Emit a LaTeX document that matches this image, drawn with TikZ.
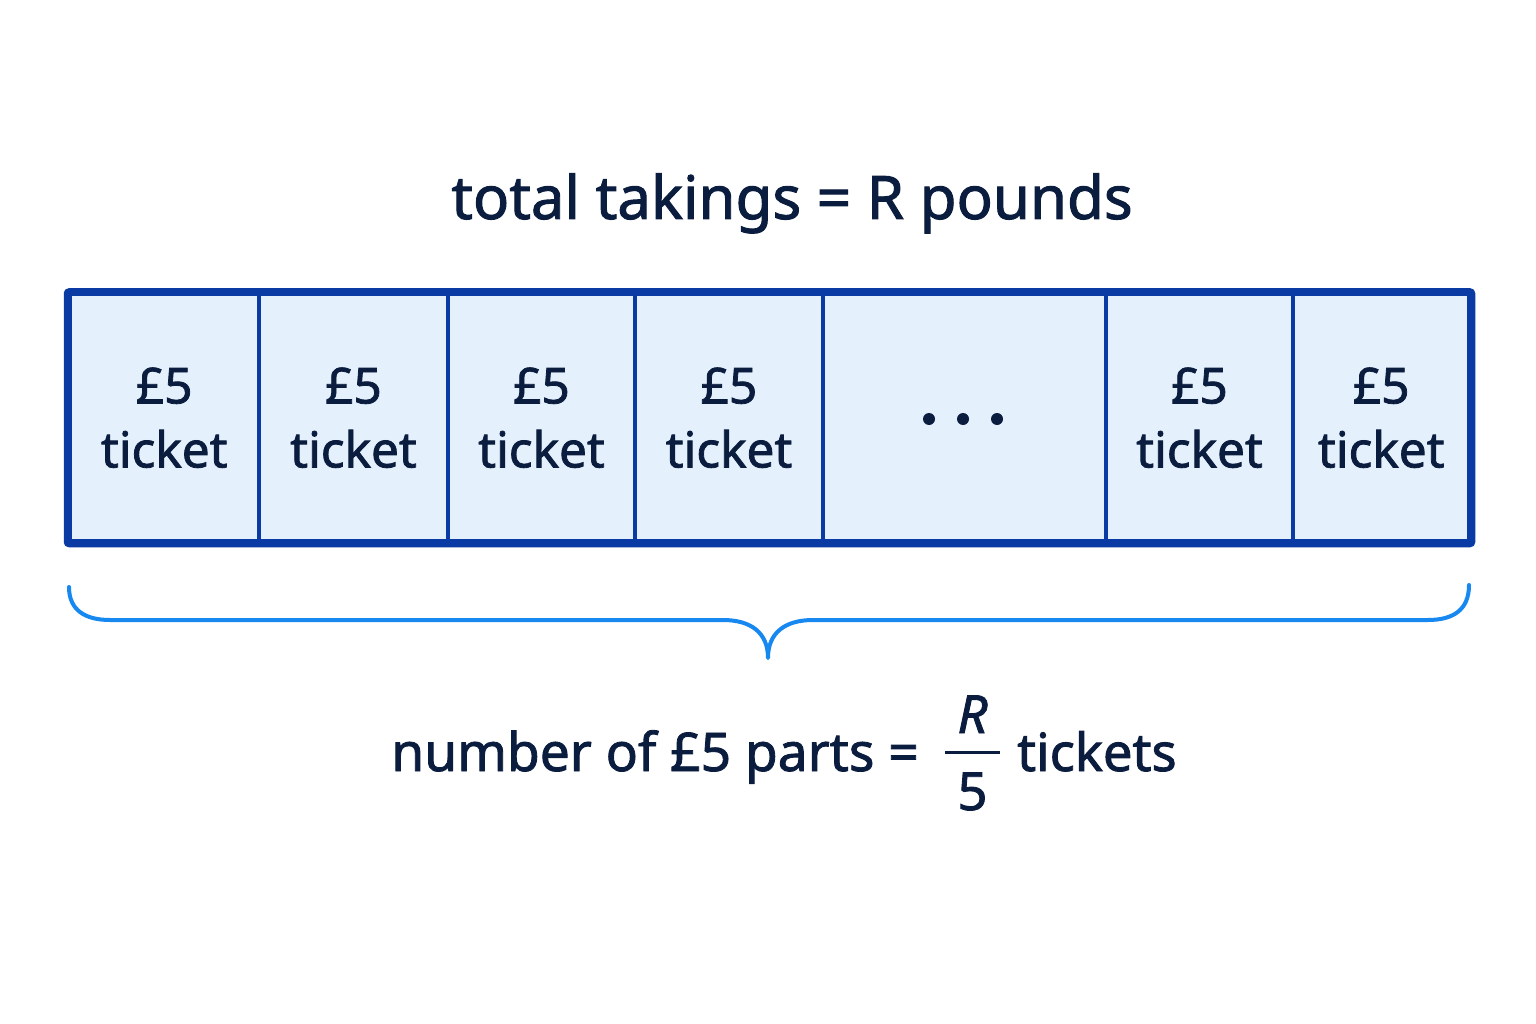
\documentclass[tikz,border=0pt]{standalone}
\usepackage{fontspec}
\setmainfont{Noto Sans}[RawFeature={embolden=1.6}]
\definecolor{inkc}{HTML}{0B1D3F}
\definecolor{boxborder}{HTML}{0A3AA3}
\definecolor{boxfill}{HTML}{E4F0FC}
\definecolor{bracec}{HTML}{1688F0}
\tikzset{
  cellbox/.style={draw=boxborder, line width=4.5pt, fill=boxfill, inner sep=0pt,
    minimum height=247.5pt, text=inkc, align=center,
    font=\fontsize{49.5}{64}\selectfont},
  dotc/.style={circle, fill=inkc, inner sep=0pt, minimum size=12pt},
  bigtext/.style={text=inkc, inner sep=0pt},
}
\begin{document}
\begin{tikzpicture}[x=1pt,y=-1pt]
\useasboundingbox[fill=white] (0,0) rectangle (1536,1024);
% cells
\node[cellbox, minimum width=189.5pt] (c1) at (164.25,417.75) {£5\\ticket};
\node[cellbox, minimum width=189pt] (c2) at (353.5,417.75) {£5\\ticket};
\node[cellbox, minimum width=187pt] (c3) at (541.5,417.75) {£5\\ticket};
\node[cellbox, minimum width=188pt] (c4) at (729,417.75) {£5\\ticket};
\node[cellbox, minimum width=283pt] (c5) at (964.5,417.75) {};
\node[cellbox, minimum width=187pt] (c6) at (1199.5,417.75) {£5\\ticket};
\node[cellbox, minimum width=176.5pt] (c7) at (1381.25,417.75) {£5\\ticket};
% outer border
\draw[boxborder, line width=7pt, rounded corners=2pt] (c1.north west) rectangle (c7.south east);
% dots
\node[dotc] (d1) at (929,419) {};
\node[dotc] (d2) at (963,419) {};
\node[dotc] (d3) at (997,419) {};
% title
\node[bigtext, anchor=base, font=\fontsize{60}{70}\selectfont] (title) at (792,219) {total takings = R pounds};
% brace
\coordinate (bl) at (69,587);
\coordinate (bl2) at (110,620);
\coordinate (bm1) at (723,620);
\coordinate (btip) at (768,658);
\coordinate (bm2) at (813,620);
\coordinate (br2) at (1428,620);
\coordinate (br) at (1469,585);
\draw[bracec, line width=4pt, line cap=round, line join=round]
  (bl) .. controls (69,610) and (85,620) .. (bl2) -- (bm1)
  .. controls (750,620) and (768,632) .. (btip)
  .. controls (768,632) and (786,620) .. (bm2) -- (br2)
  .. controls (1453,620) and (1469,610) .. (br);
% bottom formula
\node[bigtext, anchor=base east, font=\fontsize{53.3}{60}\selectfont] (lhs) at (919,771) {number of £5 parts =};
\node[bigtext, anchor=base, font=\fontsize{52.5}{60}\selectfont\itshape] (num) at (972.5,733) {R};
\node[bigtext, anchor=base, font=\fontsize{52.5}{60}\selectfont] (den) at (972.5,810) {5};
\coordinate (fl) at (945,752);
\coordinate (fr) at (1000,752);
\draw[inkc, line width=3pt] (fl) -- (fr);
\node[bigtext, anchor=base west, font=\fontsize{52.5}{60}\selectfont] (rhs) at (1017,771) {tickets};
\end{tikzpicture}
\end{document}
